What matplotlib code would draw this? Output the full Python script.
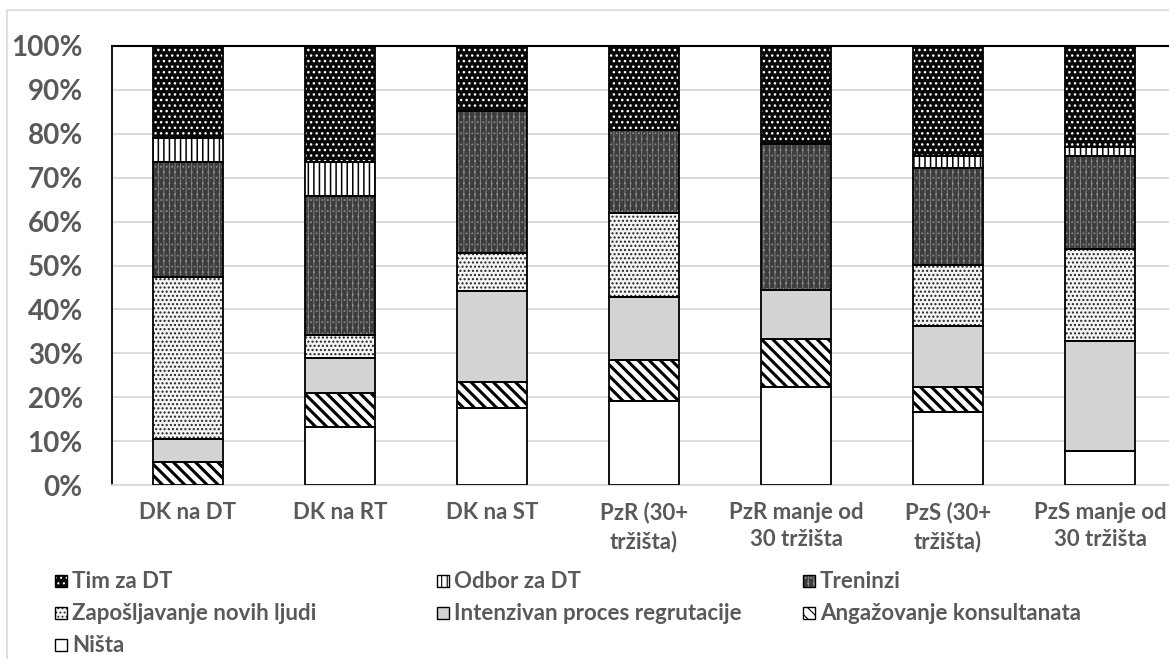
import numpy as np
import matplotlib
matplotlib.use("Agg")
import matplotlib.pyplot as plt
from matplotlib.patches import Rectangle

# ---------------- data ----------------
categories = ["DK na DT", "DK na RT", "DK na ST", "PzR (30+\ntržišta)",
              "PzR manje od\n30 tržišta", "PzS (30+\ntržišta)", "PzS manje od\n30 tržišta"]
series_names = ["Ništa", "Angažovanje konsultanata", "Intenzivan proces regrutacije",
                "Zapošljavanje novih ljudi", "Treninzi", "Odbor za DT", "Tim za DT"]
nista = [0.0, 13.16, 17.65, 19.05, 22.22, 16.67, 7.69]
angazovanje = [5.26, 7.89, 5.88, 9.52, 11.11, 5.56, 0.0]
intenzivan = [5.26, 7.89, 20.59, 14.29, 11.11, 13.89, 25.0]
zaposljavanje = [36.84, 5.26, 8.82, 19.05, 0.0, 13.89, 21.15]
treninzi = [26.32, 31.58, 32.35, 19.05, 33.33, 22.22, 21.15]
odbor = [5.26, 7.89, 0.0, 0.0, 0.0, 2.78, 1.92]
tim = [21.05, 26.32, 14.71, 19.05, 22.22, 25.0, 23.08]
yticks = [0, 10, 20, 30, 40, 50, 60, 70, 80, 90, 100]
ytick_labels = [f"{v}%" for v in yticks]

series_values = [nista, angazovanje, intenzivan, zaposljavanje, treninzi, odbor, tim]

# ---------------- styles ----------------
styles = {
    "Ništa": dict(face="white", hatch=None, hc="black", hlw=1.0),
    "Angažovanje konsultanata": dict(face="white", hatch="\\\\\\", hc="black", hlw=2.2),
    "Intenzivan proces regrutacije": dict(face="#d3d3d3", hatch=None, hc="black", hlw=1.0),
    "Zapošljavanje novih ljudi": dict(face="#f4f4f4", hatch="....", hc="#222222", hlw=1.0),
    "Treninzi": dict(face="#3c3c3c", hatch="|||...", hc="#8a8a8a", hlw=0.6),
    "Odbor za DT": dict(face="white", hatch="|||", hc="black", hlw=1.1),
    "Tim za DT": dict(face="#080808", hatch="...", hc="white", hlw=1.0),
}

TXT = "#595959"
plt.rcParams["font.family"] = ["Lato", "DejaVu Sans"]
plt.rcParams["font.weight"] = "bold"

W, H = 1169, 659
fig = plt.figure(figsize=(W / 100, H / 100), dpi=100)
fig.patch.set_facecolor("white")

# chart border
fig.add_artist(Rectangle((7 / W, -0.05), 1.2, 1 - 10 / H + 0.05, transform=fig.transFigure,
                         fill=False, edgecolor="#d9d9d9", linewidth=1.2))

ax = fig.add_axes([112 / W, 1 - 485 / H, 1064 / W, 439 / H])

vals = np.array(series_values, dtype=float)
vals = vals / vals.sum(axis=0) * 100.0
x = np.arange(len(categories))
width = 0.467
bottom = np.zeros(len(categories))


def styled_bar(ax, xs, hs, bs, st, zorder=3):
    b1 = ax.bar(xs, hs, width, bottom=bs, color=st["face"], edgecolor=st["hc"],
                hatch=st["hatch"], linewidth=0, zorder=zorder)
    for p in b1:
        if hasattr(p, "set_hatch_linewidth"):
            p.set_hatch_linewidth(st["hlw"])
    ax.bar(xs, hs, width, bottom=bs, fill=False, edgecolor="black", linewidth=1.3,
           zorder=zorder + 0.1)


for name, v in zip(series_names, vals):
    st = styles[name]
    m = v > 0
    with plt.rc_context({"hatch.linewidth": st["hlw"]}):
        styled_bar(ax, x[m], v[m], bottom[m], st)
    bottom += v

ax.set_xlim(-0.5, len(categories) - 0.5)
ax.set_ylim(0, 100)
ax.set_yticks(yticks)
ax.set_yticklabels(ytick_labels)
ax.set_xticks(x)
ax.set_xticklabels(categories, linespacing=1.4)
ax.tick_params(axis="y", length=0, pad=21, labelsize=20, labelcolor=TXT)
ax.tick_params(axis="x", length=0, pad=12, labelsize=16, labelcolor=TXT)
for lbl in ax.get_yticklabels() + ax.get_xticklabels():
    lbl.set_fontweight("bold")

ax.yaxis.grid(True, color="#d9d9d9", linewidth=1.3, zorder=0)
ax.set_axisbelow(True)
ax.spines["right"].set_visible(False)
ax.spines["left"].set_color("black")
ax.spines["left"].set_linewidth(1.3)
ax.spines["top"].set_color("black")
ax.spines["top"].set_linewidth(1.5)
ax.spines["bottom"].set_color("#d9d9d9")
ax.spines["bottom"].set_linewidth(1.3)

# ---------------- legend (manual, Excel-like grid) ----------------
legend_order = ["Tim za DT", "Odbor za DT", "Treninzi",
                "Zapošljavanje novih ljudi", "Intenzivan proces regrutacije", "Angažovanje konsultanata",
                "Ništa"]
col_x = [55, 437, 803]
row_y = [581, 613, 645]
sq = 12
for i, name in enumerate(legend_order):
    r, c = divmod(i, 3)
    st = styles[name]
    x0 = col_x[c]
    y0 = row_y[r]
    with plt.rc_context({"hatch.linewidth": 0.8}):
        rect = Rectangle((x0 / W, 1 - (y0 + sq / 2) / H), sq / W, sq / H, transform=fig.transFigure,
                         facecolor=st["face"], edgecolor=st["hc"], hatch=st["hatch"], linewidth=0)
        fig.add_artist(rect)
    fig.add_artist(Rectangle((x0 / W, 1 - (y0 + sq / 2) / H), sq / W, sq / H, transform=fig.transFigure,
                             fill=False, edgecolor="black", linewidth=1.0))
    fig.text((x0 + sq + 5) / W, 1 - y0 / H, name, fontsize=16, color=TXT, fontweight="bold",
             ha="left", va="center")

fig.savefig("out.png", dpi=100, facecolor="white")
